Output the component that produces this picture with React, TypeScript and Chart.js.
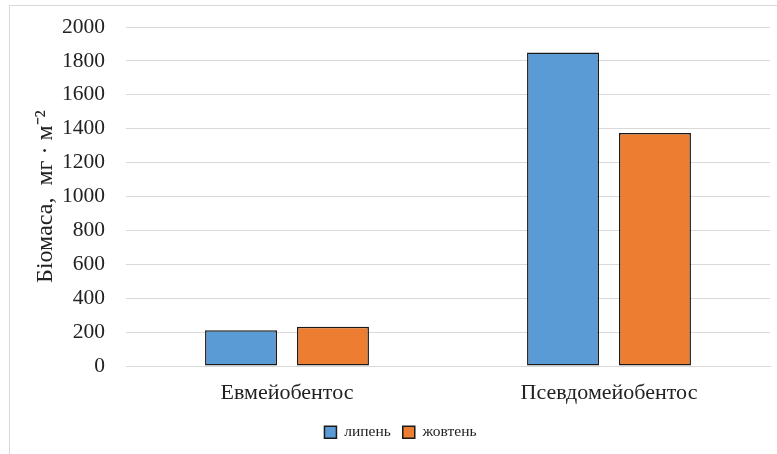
import React, { useEffect, useRef } from "react";
import { Chart, registerables } from "chart.js";

Chart.register(...registerables);

const categories = ["Евмейобентос", "Псевдомейобентос"];
const seriesNames = ["липень", "жовтень"];
const julyValues = [212, 1850];
const octoberValues = [232, 1375];
const yTitle = "Біомаса,  мг · м⁻²";

const FONT = "'Liberation Serif', 'Times New Roman', serif";

export default function App() {
  const ref = useRef<HTMLCanvasElement | null>(null);

  useEffect(() => {
    if (!ref.current) return;
    const chart = new Chart(ref.current, {
      type: "bar",
      data: {
        labels: categories,
        datasets: [
          {
            label: seriesNames[0],
            data: julyValues,
            backgroundColor: "#5b9bd5",
            borderColor: "#1a1a1a",
            borderWidth: 1.5,
            borderSkipped: false,
          },
          {
            label: seriesNames[1],
            data: octoberValues,
            backgroundColor: "#ed7d31",
            borderColor: "#1a1a1a",
            borderWidth: 1.5,
            borderSkipped: false,
          },
        ],
      },
      options: {
        animation: false,
        responsive: false,
        maintainAspectRatio: false,
        datasets: {
          bar: { categoryPercentage: 0.571, barPercentage: 0.783 },
        },
        layout: { padding: { left: 31, right: 7, top: 27, bottom: 4 } },
        scales: {
          x: {
            grid: { display: false },
            border: { display: true, color: "#d9d9d9", width: 1 },
            ticks: {
              color: "#222",
              font: { family: FONT, size: 22 },
              padding: 6,
            },
          },
          y: {
            min: 0,
            max: 2000,
            afterFit: (s: any) => {
              s.width = 95;
              s.paddingTop = 0;
              s.paddingBottom = 0;
            },
            grid: { color: "#d9d9d9", lineWidth: 1, drawTicks: false },
            border: { display: false },
            ticks: {
              stepSize: 200,
              color: "#222",
              font: { family: FONT, size: 21.5 },
              padding: 21,
              callback: (v: any) => String(v),
            },
            title: {
              display: true,
              text: yTitle,
              color: "#222",
              font: { family: FONT, size: 24 },
              padding: 0,
            },
          },
        },
        plugins: {
          legend: {
            position: "bottom",
            labels: {
              boxWidth: 12,
              boxHeight: 12,
              color: "#222",
              font: { family: FONT, size: 15.5 },
              padding: 12,
            },
          },
          tooltip: { enabled: false },
        },
      },
    });
    return () => chart.destroy();
  }, []);

  return (
    <div style={{ position: "absolute", left: 0, top: 0, width: 777, height: 454, overflow: "hidden", background: "#fff" }}>
      <div
        style={{
          position: "absolute",
          left: 9,
          top: 5,
          width: 800,
          height: 500,
          border: "1px solid #d9d9d9",
          boxSizing: "border-box",
        }}
      />
      <canvas ref={ref} width={777} height={454} style={{ position: "absolute", left: 0, top: 0, display: "block" }} />
    </div>
  );
}
